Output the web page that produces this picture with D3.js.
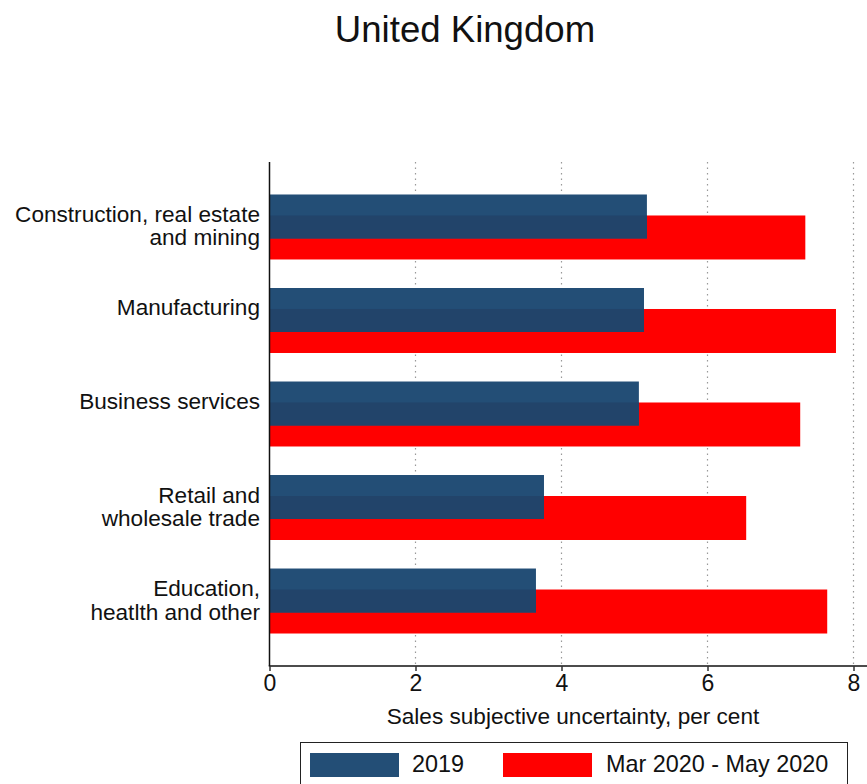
<!DOCTYPE html>
<html>
<head>
<meta charset="utf-8">
<script src="https://cdn.jsdelivr.net/npm/d3@7"></script>
<style>
  body { margin: 0; background: #fff; }
  text { font-family: "Liberation Sans", Arial, sans-serif; fill: #111; }
</style>
</head>
<body>
<div id="chart"></div>
<script>
// Data
const categories = [
  ['Construction, real estate', 'and mining'],
  ['Manufacturing'],
  ['Business services'],
  ['Retail and', 'wholesale trade'],
  ['Education,', 'heatlth and other']
]
const values2019 = [5.17, 5.13, 5.06, 3.76, 3.65]
const values2020 = [7.34, 7.76, 7.27, 6.53, 7.64]
const seriesNames = ['2019', 'Mar 2020 - May 2020']
const xTicks = [0, 2, 4, 6, 8]

// Layout
const W = 867
const H = 784
const plotLeft = 269.5
const plotTop = 162
const plotBottom = 666
const BLUE = '#234e76'
const BLUE_DARK = '#22446a'
const RED = '#ff0000'

const svg = d3.select('#chart')
  .append('svg')
  .attr('width', W)
  .attr('height', H)

const x = d3.scaleLinear().domain([0, 8]).range([plotLeft, plotLeft + 73 * 8])
const y = d3.scaleBand()
  .domain(d3.range(categories.length))
  .range([plotTop, plotBottom])
  .paddingInner(0.305)
  .paddingOuter(0.3475)

const bw = y.bandwidth()
const barH = bw * 0.677
const offset = bw - barH

// Title
svg.append('text')
  .attr('x', 465)
  .attr('y', 42)
  .attr('text-anchor', 'middle')
  .style('font-size', '36.6px')
  .text('United Kingdom')

// Gridlines
svg.append('g')
  .selectAll('line')
  .data(xTicks.filter(d => d > 0))
  .enter()
  .append('line')
  .attr('x1', d => x(d))
  .attr('x2', d => x(d))
  .attr('y1', plotTop)
  .attr('y2', plotBottom)
  .attr('stroke', '#999')
  .attr('stroke-width', 1.2)
  .attr('stroke-dasharray', '1.5,4')

const rows = categories.map((c, i) => ({ i, a: values2019[i], b: values2020[i] }))

// Red bars (2020)
svg.append('g')
  .selectAll('rect')
  .data(rows)
  .enter()
  .append('rect')
  .attr('x', x(0))
  .attr('y', d => y(d.i) + offset)
  .attr('width', d => x(d.b) - x(0))
  .attr('height', barH)
  .attr('fill', RED)

// Blue bars (2019)
svg.append('g')
  .selectAll('rect')
  .data(rows)
  .enter()
  .append('rect')
  .attr('x', x(0))
  .attr('y', d => y(d.i))
  .attr('width', d => x(d.a) - x(0))
  .attr('height', barH)
  .attr('fill', BLUE)

// Darker part where the two bars overlap
svg.append('g')
  .selectAll('rect')
  .data(rows)
  .enter()
  .append('rect')
  .attr('x', x(0))
  .attr('y', d => y(d.i) + offset)
  .attr('width', d => x(Math.min(d.a, d.b)) - x(0))
  .attr('height', barH - offset)
  .attr('fill', BLUE_DARK)

// Category labels
const labels = svg.append('g')
  .selectAll('text')
  .data(categories)
  .enter()
  .append('text')
  .attr('text-anchor', 'end')
  .style('font-size', '22.6px')
  .attr('transform', (d, i) => `translate(260, ${y(i) + bw / 2 - 5})`)

labels.selectAll('tspan')
  .data(d => d)
  .enter()
  .append('tspan')
  .attr('x', 0)
  .attr('dy', (d, j) => j === 0 ? 0 : 23.5)
  .text(d => d)

// Axes
svg.append('line')
  .attr('x1', plotLeft).attr('x2', plotLeft)
  .attr('y1', plotTop).attr('y2', plotBottom)
  .attr('stroke', '#111')
  .attr('stroke-width', 1.5)

svg.append('line')
  .attr('x1', plotLeft - 0.75).attr('x2', W)
  .attr('y1', plotBottom).attr('y2', plotBottom)
  .attr('stroke', '#111')
  .attr('stroke-width', 1.5)

const xAxis = svg.append('g')
  .attr('transform', `translate(0, ${plotBottom})`)
  .call(d3.axisBottom(x).tickValues(xTicks).tickSize(5).tickPadding(4).tickFormat(d3.format('d')))

xAxis.select('.domain').remove()
xAxis.selectAll('.tick line').attr('stroke', '#333').attr('stroke-width', 1.5)
xAxis.selectAll('.tick text')
  .style('font-size', '23px')
  .style('font-family', '"Liberation Sans", Arial, sans-serif')
  .attr('fill', '#111')

svg.append('text')
  .attr('x', 573)
  .attr('y', 724)
  .attr('text-anchor', 'middle')
  .style('font-size', '22.6px')
  .text('Sales subjective uncertainty, per cent')

// Legend
const legend = svg.append('g')
legend.append('rect')
  .attr('x', 300.5)
  .attr('y', 742.5)
  .attr('width', 547)
  .attr('height', 60)
  .attr('fill', '#fff')
  .attr('stroke', '#222')
  .attr('stroke-width', 1)

const legendItems = [
  { name: seriesNames[0], color: BLUE, x: 310, tx: 412 },
  { name: seriesNames[1], color: RED, x: 503, tx: 606 }
]

legend.selectAll('.sw')
  .data(legendItems)
  .enter()
  .append('rect')
  .attr('x', d => d.x)
  .attr('y', 753)
  .attr('width', 89)
  .attr('height', 24)
  .attr('fill', d => d.color)

legend.selectAll('.lt')
  .data(legendItems)
  .enter()
  .append('text')
  .attr('x', d => d.tx)
  .attr('y', 772)
  .style('font-size', '23.4px')
  .text(d => d.name)
</script>
</body>
</html>
